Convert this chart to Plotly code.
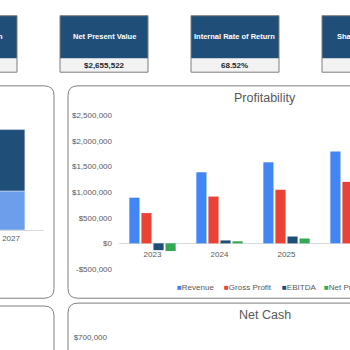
import plotly.graph_objects as go

# ---------------- data ----------------
years = ["2023", "2024", "2025", "2026", "2027"]
revenue = [890000, 1385000, 1580000, 1790000, 2030000]
gross_profit = [590000, 912000, 1045000, 1198000, 1240000]
ebitda = [-133000, 57000, 133000, 240000, 300000]
net_profit = [-150000, 40000, 95000, 180000, 235000]

series_names = ["Revenue", "Gross Profit", "EBITDA", "Net Profit"]
series_colors = ["#4285F4", "#EA4335", "#1F4E79", "#34A853"]

# left panel (revenue split)
cost_of_sales = [300000, 473000, 535000, 592000, 790000]
gross_margin = [590000, 912000, 1045000, 1198000, 1240000]

profit_ticks = [-500000, 0, 500000, 1000000, 1500000, 2000000, 2500000]
profit_tick_labels = ["-$500,000", "$0", "$500,000", "$1,000,000",
                      "$1,500,000", "$2,000,000", "$2,500,000"]
netcash_ticks = [700000]
netcash_tick_labels = ["$700,000"]

kpi_labels = ["Revenue Growth", "Net Present Value", "Internal Rate of Return", "Shareholder ROI"]
kpi_values = ["21.3%", "$2,655,522", "68.52%", "2.4"]

# ---------------- helpers ----------------
W = H = 350.0
def X(px):
    return px / W
def Y(py):
    return 1 - py / H

GREY = "#595959"
FONT = "Liberation Sans, Arial, sans-serif"

def rrect(x0, y0, x1, y1, r):
    pts = [
        ("M", [(x0 + r, y0)]), ("L", [(x1 - r, y0)]), ("Q", [(x1, y0), (x1, y0 + r)]),
        ("L", [(x1, y1 - r)]), ("Q", [(x1, y1), (x1 - r, y1)]),
        ("L", [(x0 + r, y1)]), ("Q", [(x0, y1), (x0, y1 - r)]),
        ("L", [(x0, y0 + r)]), ("Q", [(x0, y0), (x0 + r, y0)]),
    ]
    s = ""
    for cmd, ps in pts:
        s += cmd + " " + " ".join(f"{X(a):.5f},{Y(b):.5f}" for a, b in ps) + " "
    return s + "Z"

fig = go.Figure()

# Profitability bars
for name, vals, col in zip(series_names, [revenue, gross_profit, ebitda, net_profit], series_colors):
    fig.add_trace(go.Bar(x=years, y=vals, name=name, marker=dict(color=col, line=dict(width=0)),
                         xaxis="x", yaxis="y", showlegend=False))

# Left stacked bar panel
fig.add_trace(go.Bar(x=years, y=cost_of_sales, name="Cost of Sales", marker_color="#6D9EEB",
                     offsetgroup="mix", width=0.42, xaxis="x2", yaxis="y2", showlegend=False))
fig.add_trace(go.Bar(x=years, y=gross_margin, base=cost_of_sales, name="Gross Profit",
                     marker_color="#1F4E79", offsetgroup="mix", width=0.42,
                     xaxis="x2", yaxis="y2", showlegend=False))

# Net cash panel (only the top of its axis is visible)
fig.add_trace(go.Scatter(x=[], y=[], xaxis="x3", yaxis="y3", showlegend=False))

shapes = []
# panels
for (x0, y0, x1, y1) in [(-20, 84, 54, 302), (68, 84, 380, 302), (-20, 310, 54, 420), (68, 307, 380, 420)]:
    shapes.append(dict(type="path", path=rrect(x0, y0, x1, y1, 10), xref="paper", yref="paper",
                       line=dict(color="#7F7F7F", width=1), fillcolor="rgba(0,0,0,0)", layer="below"))

annotations = []
box_x = [-71, 60, 191, 322]
box_w = 88
for bx, lab, val in zip(box_x, kpi_labels, kpi_values):
    shapes.append(dict(type="rect", xref="paper", yref="paper", x0=X(bx), x1=X(bx + box_w),
                       y0=Y(56), y1=Y(12), fillcolor="#1F4E79", line=dict(width=0), layer="below"))
    shapes.append(dict(type="rect", xref="paper", yref="paper", x0=X(bx), x1=X(bx + box_w),
                       y0=Y(70), y1=Y(56), fillcolor="#F2F2F2", line=dict(width=0), layer="below"))
    shapes.append(dict(type="rect", xref="paper", yref="paper", x0=X(bx), x1=X(bx + box_w),
                       y0=Y(70), y1=Y(12), fillcolor="rgba(0,0,0,0)",
                       line=dict(color="#7F7F7F", width=1), layer="below"))
    annotations.append(dict(x=X(bx + box_w / 2), y=Y(33.5), xref="paper", yref="paper",
                            text=f"<b>{lab}</b>", showarrow=False, xanchor="center", yanchor="middle",
                            font=dict(family=FONT, size=7.5, color="white")))
    annotations.append(dict(x=X(bx + box_w / 2), y=Y(63.5), xref="paper", yref="paper",
                            text=f"<b>{val}</b>", showarrow=False, xanchor="center", yanchor="middle",
                            font=dict(family=FONT, size=8, color="#262626")))

# titles
annotations.append(dict(x=X(265), y=Y(96), xref="paper", yref="paper", text="Profitability",
                        showarrow=False, xanchor="center", yanchor="middle",
                        font=dict(family=FONT, size=12.5, color=GREY)))
annotations.append(dict(x=X(265), y=Y(319), xref="paper", yref="paper", text="Net Cash",
                        showarrow=False, xanchor="center", yanchor="middle",
                        font=dict(family=FONT, size=12.5, color=GREY)))

# legend (built from series names/colours)
legend_x = [175, 222, 280, 322]
for lx, name, col in zip(legend_x, series_names, series_colors):
    annotations.append(dict(x=X(lx), y=Y(291), xref="paper", yref="paper",
                            text=f'<span style="color:{col}">■</span>{name}', showarrow=False,
                            xanchor="left", yanchor="middle",
                            font=dict(family=FONT, size=8, color=GREY)))

y_dom = [Y(272), Y(114)]
x_axis_pos = y_dom[0] + (y_dom[1] - y_dom[0]) * (500000 / 3000000)

fig.update_layout(
    width=350, height=350, margin=dict(l=0, r=0, t=0, b=0),
    paper_bgcolor="white", plot_bgcolor="rgba(0,0,0,0)",
    barmode="group", bargap=0.28, bargroupgap=0.16,
    font=dict(family=FONT, color=GREY, size=8),
    xaxis=dict(domain=[X(119), 1], type="category", range=[-0.5, -0.5 + 231 / 67],
               anchor="free", position=x_axis_pos, showline=False, ticks="",
               ticklabelstandoff=5,
               showgrid=False, zeroline=False, tickfont=dict(size=8, color=GREY)),
    yaxis=dict(domain=y_dom, range=[-500000, 2500000], anchor="x", tickvals=profit_ticks,
               ticktext=profit_tick_labels, showgrid=False, zeroline=True,
               zerolinecolor="#D9D9D9", zerolinewidth=1, ticks="", ticklabelstandoff=6,
               tickfont=dict(size=8, color=GREY)),
    xaxis2=dict(domain=[0, X(44)], type="category", range=[3.833, 4.5], anchor="y2",
                showline=True, linecolor="#D9D9D9", linewidth=1, ticks="", showgrid=False,
                zeroline=False, tickfont=dict(size=8, color=GREY)),
    yaxis2=dict(domain=[Y(232), Y(100)], range=[0, 2600000], anchor="x2", visible=False),
    xaxis3=dict(domain=[X(114), 1], anchor="y3", visible=False),
    yaxis3=dict(domain=[0, Y(342)], range=[650000, 700001], anchor="x3",
                tickvals=netcash_ticks, ticktext=netcash_tick_labels, showgrid=False,
                zeroline=False, ticks="", ticklabelstandoff=6,
                tickfont=dict(size=8, color=GREY)),
    shapes=shapes, annotations=annotations,
)

fig.write_html("out.html")
